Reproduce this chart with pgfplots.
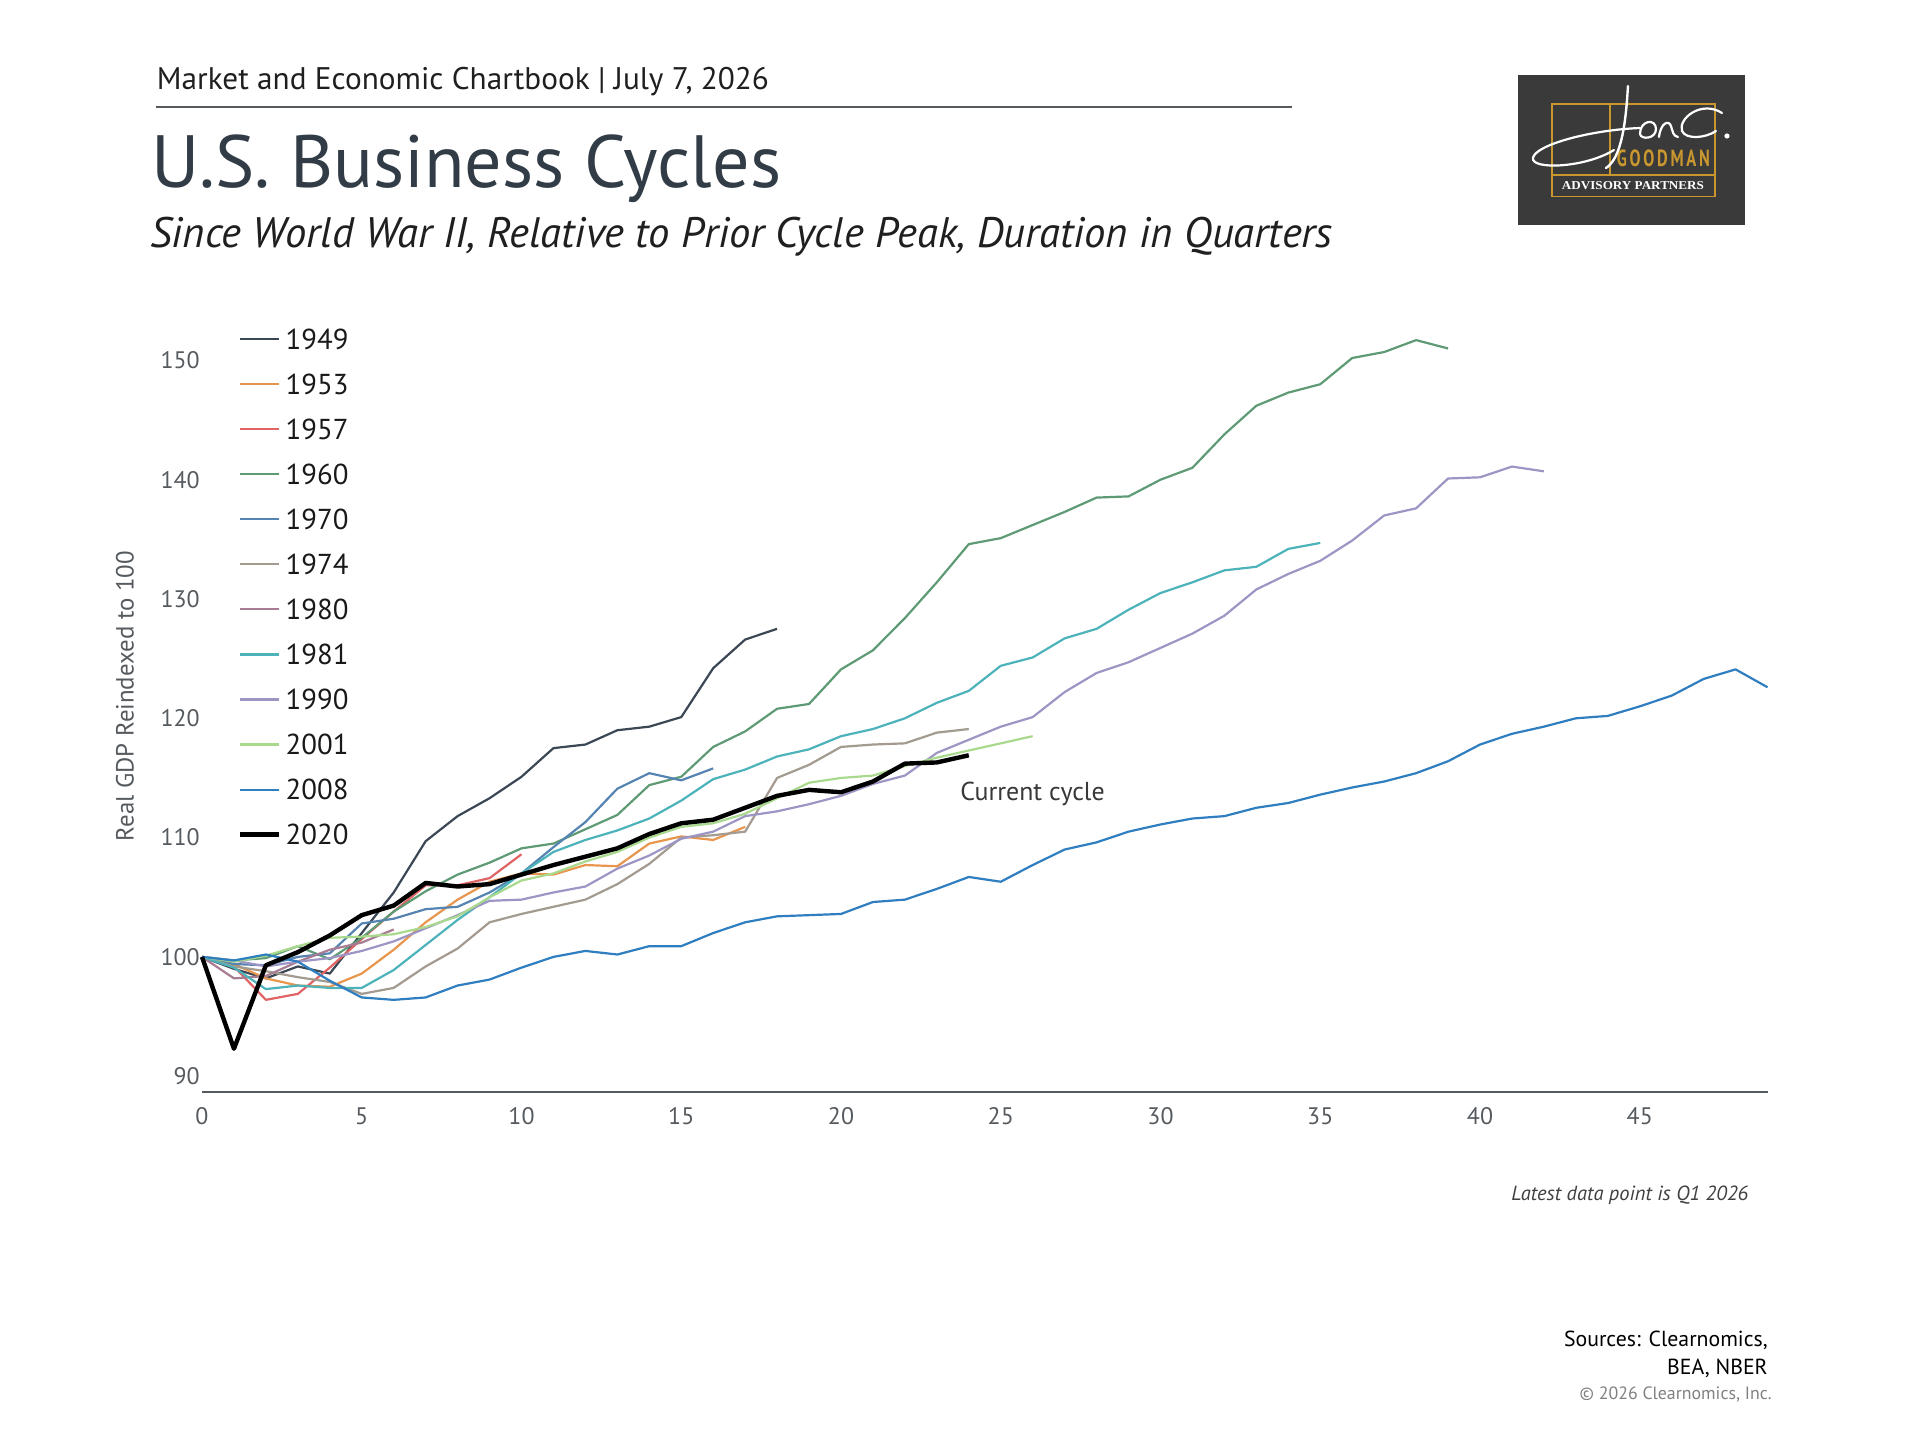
\documentclass[border=0pt]{standalone}
\usepackage{pgfplots}
\pgfplotsset{compat=1.18}
\usepackage{fontspec}
\setmainfont{PT Sans}
\newfontfamily\serifont{Liberation Serif}
\usepackage{graphicx}

\definecolor{c1949}{HTML}{3B4755}
\definecolor{c1953}{HTML}{E8964E}
\definecolor{c1957}{HTML}{E06464}
\definecolor{c1960}{HTML}{5E9A74}
\definecolor{c1970}{HTML}{5584B2}
\definecolor{c1974}{HTML}{A39A90}
\definecolor{c1980}{HTML}{A87D94}
\definecolor{c1981}{HTML}{4DB3BA}
\definecolor{c1990}{HTML}{9D95C4}
\definecolor{c2001}{HTML}{A9D98C}
\definecolor{c2008}{HTML}{2F7EC0}
\definecolor{cTick}{HTML}{555A5F}
\definecolor{cTitle}{HTML}{323C46}
\definecolor{cLogo}{HTML}{3A3A3B}
\definecolor{cGold}{HTML}{C9972E}

\begin{document}
\begin{tikzpicture}
\path[use as bounding box] (0,0) rectangle (480mm,-360mm);

\begin{axis}[
  at={(50.5mm,-272.925mm)}, anchor=south west,
  scale only axis, width=391.39mm, height=197.74mm,
  xmin=0, xmax=49, ymin=88.7, ymax=155,
  clip=false,
  axis x line*=bottom, axis y line*=left,
  x axis line style={-, draw=cTick, line width=0.42mm},
  y axis line style={draw=none},
  major tick length=0pt, tick style={draw=none},
  xtick={0,5,...,45}, ytick={90,100,...,150},
  /pgf/number format/assume math mode=true,
  tick label style={font=\fontsize{17}{17}\selectfont, text=cTick},
  xticklabel style={anchor=center, yshift=-6.08mm, inner sep=0pt},
  yticklabel style={anchor=east, xshift=-0.5mm, inner sep=0pt},
  every axis plot/.append style={line width=0.55mm, line join=round, mark=none},
  legend style={at={(axis description cs:0.0227,0.9642)}, anchor=north west,
    draw=none, fill=none, inner sep=0pt, outer sep=0pt, row sep=17.85pt, column sep=1.2mm,
    font=\fontsize{20.5}{20.5}\selectfont,
    nodes={inner sep=0pt, text height=14.2pt, text depth=0pt, text=black!90}},
  legend cell align=left,
  legend image code/.code={\draw[#1] (0mm,0pt) -- (9.75mm,0pt);},
]
\addplot[c1949] coordinates {(0,100) (1,99.0) (2,98.2) (3,99.2) (4,98.6) (5,102.0) (6,105.4) (7,109.7) (8,111.8) (9,113.3) (10,115.1) (11,117.5) (12,117.8) (13,119.0) (14,119.3) (15,120.1) (16,124.2) (17,126.6) (18,127.5)};
\addlegendentry{1949}
\addplot[c1953] coordinates {(0,100) (1,99.4) (2,98.2) (3,97.6) (4,97.5) (5,98.6) (6,100.6) (7,102.9) (8,104.8) (9,106.3) (10,107.0) (11,106.9) (12,107.7) (13,107.6) (14,109.5) (15,110.1) (16,109.8) (17,110.9)};
\addlegendentry{1953}
\addplot[c1957] coordinates {(0,100) (1,99.2) (2,96.4) (3,96.9) (4,99.1) (5,101.5) (6,103.8) (7,106.0) (8,106.0) (9,106.6) (10,108.6)};
\addlegendentry{1957}
\addplot[c1960] coordinates {(0,100) (1,99.7) (2,99.9) (3,100.9) (4,99.8) (5,101.6) (6,103.8) (7,105.5) (8,106.9) (9,107.9) (10,109.1) (11,109.5) (12,110.7) (13,111.9) (14,114.4) (15,115.1) (16,117.6) (17,118.9) (18,120.8) (19,121.2) (20,124.1) (21,125.7) (22,128.4) (23,131.4) (24,134.6) (25,135.1) (26,136.2) (27,137.3) (28,138.5) (29,138.6) (30,140.0) (31,141.0) (32,143.8) (33,146.2) (34,147.3) (35,148.0) (36,150.2) (37,150.7) (38,151.7) (39,151.0)};
\addlegendentry{1960}
\addplot[c1970] coordinates {(0,100) (1,99.4) (2,99.3) (3,100.0) (4,100.3) (5,102.8) (6,103.2) (7,104.0) (8,104.2) (9,105.4) (10,107.0) (11,109.2) (12,111.3) (13,114.1) (14,115.4) (15,114.8) (16,115.8)};
\addlegendentry{1970}
\addplot[c1974] coordinates {(0,100) (1,99.2) (2,98.8) (3,98.3) (4,97.9) (5,96.9) (6,97.4) (7,99.2) (8,100.7) (9,102.9) (10,103.6) (11,104.2) (12,104.8) (13,106.1) (14,107.8) (15,110.0) (16,110.2) (17,110.5) (18,115.0) (19,116.1) (20,117.6) (21,117.8) (22,117.9) (23,118.8) (24,119.1)};
\addlegendentry{1974}
\addplot[c1980] coordinates {(0,100) (1,98.2) (2,98.4) (3,99.6) (4,100.6) (5,101.2) (6,102.3)};
\addlegendentry{1980}
\addplot[c1981] coordinates {(0,100) (1,99.1) (2,97.3) (3,97.6) (4,97.4) (5,97.4) (6,98.9) (7,101.0) (8,103.1) (9,105.0) (10,107.0) (11,108.8) (12,109.8) (13,110.6) (14,111.6) (15,113.1) (16,114.9) (17,115.7) (18,116.8) (19,117.4) (20,118.5) (21,119.1) (22,120.0) (23,121.3) (24,122.3) (25,124.4) (26,125.1) (27,126.7) (28,127.5) (29,129.1) (30,130.5) (31,131.4) (32,132.4) (33,132.7) (34,134.2) (35,134.7)};
\addlegendentry{1981}
\addplot[c1990] coordinates {(0,100) (1,99.7) (2,99.2) (3,99.6) (4,99.9) (5,100.5) (6,101.3) (7,102.4) (8,103.5) (9,104.7) (10,104.8) (11,105.4) (12,105.9) (13,107.4) (14,108.5) (15,109.9) (16,110.5) (17,111.8) (18,112.2) (19,112.8) (20,113.5) (21,114.5) (22,115.2) (23,117.1) (24,118.2) (25,119.3) (26,120.1) (27,122.2) (28,123.8) (29,124.7) (30,125.9) (31,127.1) (32,128.6) (33,130.8) (34,132.1) (35,133.2) (36,134.9) (37,137.0) (38,137.6) (39,140.1) (40,140.2) (41,141.1) (42,140.7)};
\addlegendentry{1990}
\addplot[c2001] coordinates {(0,100) (1,99.6) (2,100.1) (3,100.9) (4,101.6) (5,101.7) (6,101.9) (7,102.5) (8,103.4) (9,105.0) (10,106.4) (11,107.0) (12,108.0) (13,108.8) (14,110.0) (15,110.9) (16,111.2) (17,112.0) (18,113.3) (19,114.6) (20,115.0) (21,115.2) (22,116.0) (23,116.7) (24,117.3) (25,117.9) (26,118.5)};
\addlegendentry{2001}
\addplot[c2008] coordinates {(0,100) (1,99.7) (2,100.2) (3,99.6) (4,98.0) (5,96.6) (6,96.4) (7,96.6) (8,97.6) (9,98.1) (10,99.1) (11,100.0) (12,100.5) (13,100.2) (14,100.9) (15,100.9) (16,102.0) (17,102.9) (18,103.4) (19,103.5) (20,103.6) (21,104.6) (22,104.8) (23,105.7) (24,106.7) (25,106.3) (26,107.7) (27,109.0) (28,109.6) (29,110.5) (30,111.1) (31,111.6) (32,111.8) (33,112.5) (34,112.9) (35,113.6) (36,114.2) (37,114.7) (38,115.4) (39,116.4) (40,117.8) (41,118.7) (42,119.3) (43,120.0) (44,120.2) (45,121.0) (46,121.9) (47,123.3) (48,124.1) (49,122.6)};
\addlegendentry{2008}
\addplot[black, line width=1.1mm] coordinates {(0,100) (1,92.3) (2,99.3) (3,100.4) (4,101.8) (5,103.5) (6,104.3) (7,106.2) (8,105.9) (9,106.1) (10,106.9) (11,107.7) (12,108.4) (13,109.1) (14,110.3) (15,111.2) (16,111.5) (17,112.5) (18,113.5) (19,114.0) (20,113.8) (21,114.7) (22,116.2) (23,116.3) (24,116.9)};
\addlegendentry{2020}
\end{axis}

\begin{scope}[x=0.25mm, y=-0.25mm]
  % header
  \node[anchor=base west, inner sep=0pt, text=black!88] at (156.7,89.3) {\resizebox{153mm}{!}{Market and Economic Chartbook | July 7, 2026}};
  \draw[draw=cTick, line width=0.4mm] (156,107.3) -- (1292,107.3);
  \node[anchor=base west, inner sep=0pt, text=cTitle] at (151,187.3) {\resizebox{157.5mm}{!}{U.S. Business Cycles}};
  \node[anchor=base west, inner sep=0pt, text=black!88] at (150,247.3) {\resizebox{295.6mm}{!}{\itshape Since World War II, Relative to Prior Cycle Peak, Duration in Quarters}};
  % logo
  \fill[cLogo] (1518,75) rectangle (1745,225);
  \draw[cGold, line width=0.4mm] (1552,104.3) rectangle (1715,196.7);
  \draw[cGold, line width=0.4mm] (1552,175) -- (1715,175);
  \draw[cGold, line width=0.4mm] (1610,104.3) -- (1610,175);
  \node[inner sep=0pt, text=cGold] at (1663.5,158.3) {\resizebox{23.25mm}{4.17mm}{\bfseries G\,O\,O\,D\,M\,A\,N}};
  \node[inner sep=0pt, text=white] at (1633,185.5) {\resizebox{35.5mm}{2mm}{\serifont\bfseries ADVISORY PARTNERS}};
  \draw[white, line width=0.6mm, line cap=round] (1628,86) .. controls (1626,120) and (1622,158) .. (1606,168);
  \draw[white, line width=0.55mm, line cap=round] (1640,128) .. controls (1590,130) and (1535,145) .. (1533,158) .. controls (1531,170) and (1585,168) .. (1614,150);
  \draw[white, line width=0.55mm, line cap=round] (1640,134) .. controls (1640,120) and (1656,118) .. (1656,129) .. controls (1656,139) and (1641,140) .. (1640,134);
  \draw[white, line width=0.55mm, line cap=round] (1659,137) .. controls (1661,122) and (1669,120) .. (1671,126) .. controls (1673,132) and (1673,136) .. (1678,137);
  \draw[white, line width=0.55mm, line cap=round] (1722,113) .. controls (1702,100) and (1678,118) .. (1682,131) .. controls (1686,140) and (1706,138) .. (1716,131);
  \fill[white] (1727,136) circle[radius=2.6];
  % y label
  \node[rotate=90, inner sep=0pt, text=cTick] at (125,696) {\resizebox{72.5mm}{!}{Real GDP Reindexed to 100}};
  % annotations
  \node[anchor=west, inner sep=0pt, text=black!78] at (960,793.5) {\resizebox{36.1mm}{!}{Current cycle}};
  \node[anchor=east, inner sep=0pt, text=black!75] at (1748.6,1195) {\resizebox{59.2mm}{!}{\itshape Latest data point is Q1 2026}};
  \node[anchor=north east, inner sep=0pt, align=right, text=black, font=\fontsize{15.5}{19.5}\selectfont] at (1768,1331) {Sources: Clearnomics,\\BEA, NBER};
  \node[anchor=east, inner sep=0pt, text=black!50] at (1772,1394.7) {\resizebox{48mm}{!}{© 2026 Clearnomics, Inc.}};
\end{scope}
\end{tikzpicture}
\end{document}
